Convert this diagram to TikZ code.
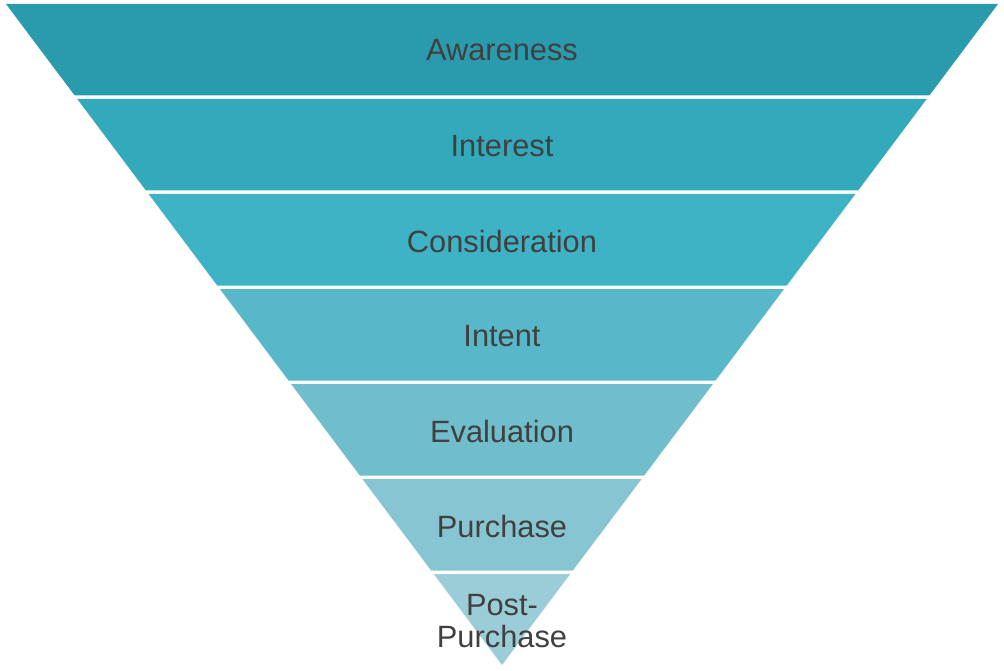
\documentclass[tikz,border=0pt]{standalone}
\usepackage{fontspec}
\setmainfont{Liberation Sans}
\usepackage{tikz}
\definecolor{awarecol}{HTML}{2A9BAD}
\definecolor{interestcol}{HTML}{33AABB}
\definecolor{considercol}{HTML}{3EB3C5}
\definecolor{intentcol}{HTML}{58B7C9}
\definecolor{evalcol}{HTML}{70BDCB}
\definecolor{purchasecol}{HTML}{87C5D2}
\definecolor{postcol}{HTML}{9BCDD8}
\definecolor{labelcol}{HTML}{404040}
\tikzset{stagelabel/.style={text=labelcol, font=\fontsize{30.8}{32}\selectfont, align=center, inner sep=0pt}}

\begin{document}
\begin{tikzpicture}[x=1pt, y=-1pt]
	%%%%% START %%%%%
	
	\useasboundingbox (0, 0) rectangle (1004, 671);
	
	\fill[awarecol] (6, 4) -- (998, 4) -- (929.3, 95.5) -- (74.7, 95.5) -- cycle;
	\node[stagelabel] (awareness) at (502, 50) {Awareness};
	
	\fill[interestcol] (77.3, 99) -- (926.7, 99) -- (858.1, 190.5) -- (145.9, 190.5) -- cycle;
	\node[stagelabel] (interest) at (502, 146) {Interest};
	
	\fill[considercol] (148.6, 194) -- (855.4, 194) -- (786.8, 285.5) -- (217.2, 285.5) -- cycle;
	\node[stagelabel] (consideration) at (502, 241) {Consideration};
	
	\fill[intentcol] (219.9, 289) -- (784.1, 289) -- (715.5, 380.5) -- (288.5, 380.5) -- cycle;
	\node[stagelabel] (intent) at (502, 336) {Intent};
	
	\fill[evalcol] (291.1, 384) -- (712.9, 384) -- (644.2, 475.5) -- (359.8, 475.5) -- cycle;
	\node[stagelabel] (evaluation) at (502, 431) {Evaluation};
	
	\fill[purchasecol] (362.4, 479) -- (641.6, 479) -- (572.9, 570.5) -- (431.1, 570.5) -- cycle;
	\node[stagelabel] (purchase) at (502, 526) {Purchase};
	
	\fill[postcol] (433.7, 574) -- (570.3, 574) -- (502, 665) -- cycle;
	\node[stagelabel] (postpurchase) at (502, 621.5) {Post-\\Purchase};
	
	%%%%% END %%%%%
\end{tikzpicture}
\end{document}
